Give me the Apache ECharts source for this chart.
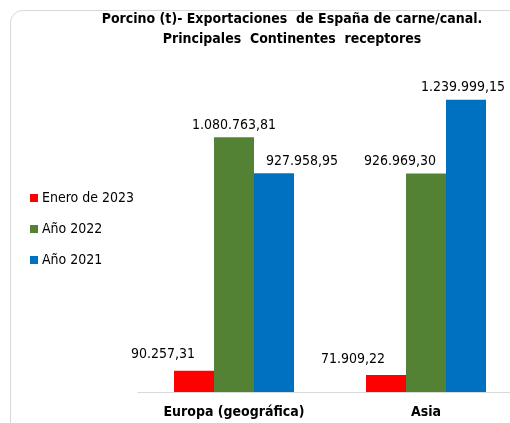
<!DOCTYPE html>
<html>
<head>
<meta charset="utf-8">
<script src="https://cdn.jsdelivr.net/npm/echarts@6/dist/echarts.min.js"></script>
<style>
  html, body { margin: 0; padding: 0; background: #fff; }
  #main { width: 510px; height: 423px; }
</style>
</head>
<body>
<div id="main"></div>
<script>
var categories = ['Europa (geográfica)', 'Asia'];
var enero2023 = [90257.31, 71909.22];
var ano2022 = [1080763.81, 926969.30];
var ano2021 = [927958.95, 1239999.15];

var FONT = '"DejaVu Sans Condensed", "DejaVu Sans", sans-serif';

// formato español: 1.234.567,89
function fmt(v) {
  var parts = v.toFixed(2).split('.');
  var ent = parts[0].replace(/\B(?=(\d{3})+(?!\d))/g, '.');
  return ent + ',' + parts[1];
}

// las etiquetas del original estan desplazadas para no solaparse
function serie(name, data, color, offsets) {
  return {
    name: name,
    type: 'bar',
    data: data.map(function (v, i) {
      return { value: v, label: { offset: offsets[i] } };
    }),
    barGap: 0,
    barCategoryGap: '37.5%',
    itemStyle: { color: color },
    label: {
      show: true,
      position: 'top',
      distance: 5,
      color: '#000',
      fontFamily: FONT,
      fontSize: 14,
      formatter: function (p) { return fmt(p.value); }
    }
  };
}

var myChart = echarts.init(document.getElementById('main'));
myChart.setOption({
  backgroundColor: '#fff',
  animation: false,
  title: {
    text: 'Porcino (t)- Exportaciones  de España de carne/canal.\nPrincipales  Continentes  receptores',
    left: 287,
    top: 4,
    textAlign: 'center',
    textStyle: {
      fontFamily: FONT,
      fontSize: 14,
      fontWeight: 'bold',
      color: '#000',
      lineHeight: 20,
      align: 'center'
    }
  },
  legend: {
    orient: 'vertical',
    left: 30,
    top: 191,
    padding: 0,
    itemGap: 17,
    itemWidth: 8,
    itemHeight: 8,
    icon: 'rect',
    textStyle: { fontFamily: FONT, fontSize: 14, color: '#000', padding: [0, 0, 0, -1] },
    data: ['Enero de 2023', 'Año 2022', 'Año 2021']
  },
  grid: { left: 138, width: 384, top: 62, bottom: 31, outerBoundsMode: 'none' },
  xAxis: {
    type: 'category',
    data: categories,
    axisLine: { lineStyle: { color: '#d9d9d9', width: 1 } },
    axisTick: { show: false },
    axisLabel: {
      margin: 13,
      fontFamily: FONT,
      fontSize: 14,
      fontWeight: 'bold',
      color: '#000'
    }
  },
  yAxis: {
    type: 'value',
    min: 0,
    max: 1400000,
    show: false,
    splitLine: { show: false }
  },
  graphic: [{
    type: 'rect',
    shape: { x: 10.5, y: 10.5, width: 600, height: 500, r: 12 },
    style: { fill: null, stroke: '#d9d9d9', lineWidth: 1 },
    z: -1
  }],
  series: [
    serie('Enero de 2023', enero2023, '#ff0000', [[-31, -4], [-33, -4]]),
    serie('Año 2022', ano2022, '#548235', [[0, 0], [-26, 0]]),
    serie('Año 2021', ano2021, '#0070c0', [[28, 0], [-3, 0]])
  ]
});
</script>
</body>
</html>
